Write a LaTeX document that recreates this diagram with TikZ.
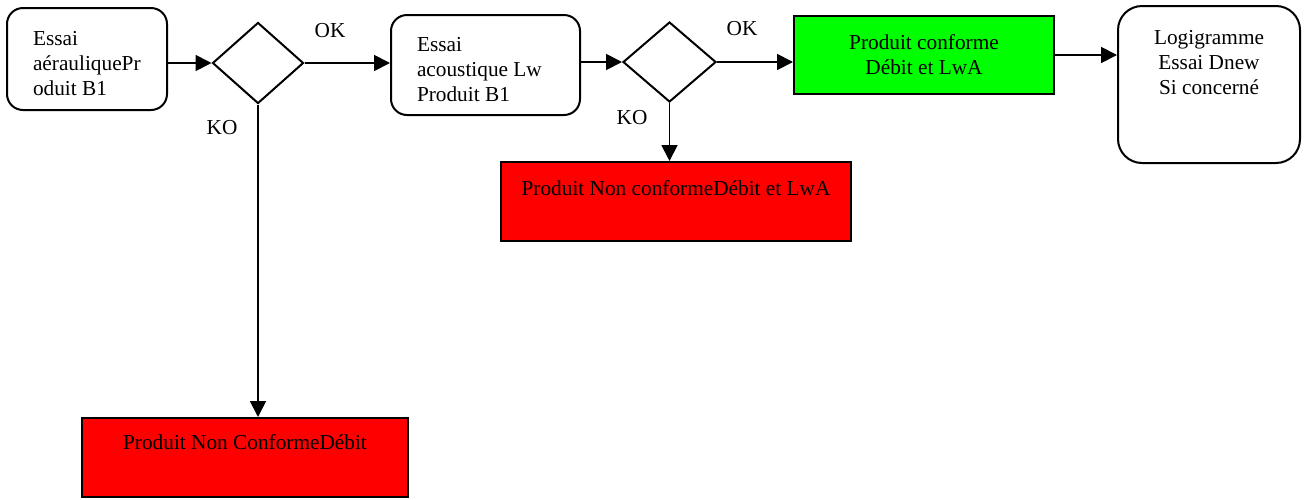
\documentclass[tikz,border=0pt]{standalone}
\usepackage{fontspec}
\setmainfont{Liberation Serif}
\usetikzlibrary{positioning, shapes.geometric, arrows.meta}
\definecolor{okgreen}{RGB}{0,255,0}
\definecolor{kored}{RGB}{255,0,0}
\newcommand{\topstrut}{\rule{0pt}{12pt}}

\begin{document}
\begin{tikzpicture}[
        x=0.5pt, y=-0.5pt,
        font=\fontsize{10.65}{12.5}\selectfont,
        essai/.style={rectangle, draw, line width=1pt, rounded corners=8pt, align=flush left, inner xsep=13pt, inner ysep=0pt},
        test/.style={diamond, draw, line width=1pt, inner sep=0pt},
        result/.style={rectangle, draw, line width=1pt, inner sep=0pt},
        flow/.style={-{Triangle[length=8pt, width=8pt]}, line width=0.9pt}
    ]
        \useasboundingbox (0,0) rectangle (1309,499);

        \node[essai, text width=54pt, minimum height=51pt] (ESSAI1) at (87,59) {\topstrut Essai\\aérauliquePr\\oduit B1};
        \node[test, minimum width=45.5pt, minimum height=40.5pt] (TEST1) at (258,63) {};
        \node[essai, text width=68.5pt, minimum height=50pt] (ESSAI2) at (485.5,65) {\topstrut Essai\\acoustique Lw\\Produit B1};
        \node[test, minimum width=46.5pt, minimum height=40pt] (TEST2) at (669.5,62) {};
        \node[result, fill=okgreen, minimum width=130pt, minimum height=39pt, align=center] (CONF) at (924,55) {Produit conforme\\Débit et LwA};
        \node[essai, rounded corners=12pt, minimum width=91pt, minimum height=78.5pt] (DNEW) at (1209,84.5) {};
        \node[anchor=north, align=center, inner sep=0pt] (DNEWtxt) at (1209,30) {Logigramme\\Essai Dnew\\Si concerné};
        \node[result, fill=kored, minimum width=163pt, text height=15.5pt, text depth=24pt] (NC1) at (245,457.5) {Produit Non ConformeDébit};
        \node[result, fill=kored, minimum width=175pt, text height=16.5pt, text depth=23pt] (NC2) at (676,201.5) {Produit Non conformeDébit et LwA};

        \draw[flow] (ESSAI1.east |- TEST1.west) -- (TEST1.west);
        \draw[flow] (TEST1.east) -- (TEST1.east -| ESSAI2.west);
        \draw[flow] (TEST1.south) -- (TEST1.south |- NC1.north);
        \draw[flow] (ESSAI2.east |- TEST2.west) -- (TEST2.west);
        \draw[flow] (TEST2.east) -- (TEST2.east -| CONF.west);
        \draw[flow] (TEST2.south) -- (TEST2.south |- NC2.north);
        \draw[flow] (CONF.east) -- (CONF.east -| DNEW.west);

        % OK / KO labels
        \node (OK1) at (330,31) {OK};
        \node (KO1) at (222,128) {KO};
        \node (OK2) at (742,29) {OK};
        \node (KO2) at (632,118) {KO};
    \end{tikzpicture}
\end{document}
